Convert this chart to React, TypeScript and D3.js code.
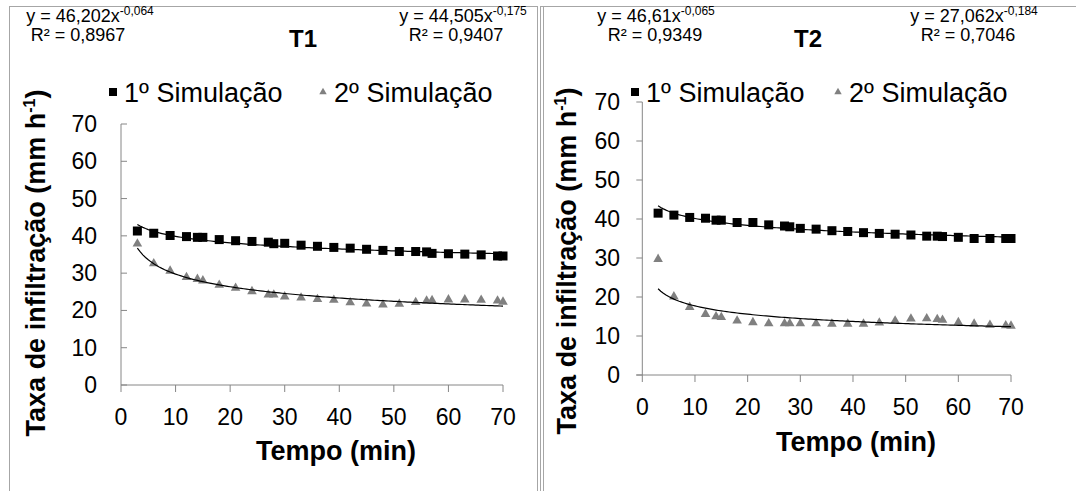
import React from 'react';
import * as d3 from 'd3';

// ---- data ----
const times = [3, 6, 9, 12, 14, 15, 18, 21, 24, 27, 28, 30, 33, 36, 39, 42, 45, 48, 51, 54, 56, 57, 60, 63, 66, 69, 70];
const t1Sim1 = [41.3, 40.7, 40.1, 39.8, 39.6, 39.6, 39.0, 38.7, 38.5, 38.3, 37.9, 38.0, 37.5, 37.2, 36.9, 36.7, 36.4, 36.1, 35.8, 35.8, 35.7, 35.3, 35.2, 35.1, 34.9, 34.6, 34.6];
const t1Sim2 = [37.9, 32.6, 30.6, 28.9, 28.4, 28.0, 26.8, 26.0, 25.1, 24.2, 24.2, 23.7, 23.4, 23.0, 22.8, 22.1, 21.8, 21.5, 21.7, 22.2, 22.6, 22.7, 22.9, 22.9, 22.8, 22.6, 22.3];
const t2Sim1 = [41.5, 41.0, 40.4, 40.2, 39.7, 39.7, 39.1, 39.1, 38.5, 38.2, 38.0, 37.6, 37.4, 37.0, 36.8, 36.5, 36.3, 36.1, 35.9, 35.6, 35.6, 35.5, 35.3, 35.0, 35.0, 35.0, 35.0];
const t2Sim2 = [29.7, 20.1, 17.4, 15.6, 15.0, 14.8, 13.9, 13.5, 13.2, 13.2, 13.2, 13.2, 13.2, 13.1, 13.1, 13.1, 13.4, 13.9, 14.4, 14.5, 14.3, 14.1, 13.5, 13.1, 12.8, 12.7, 12.6];

const t1Fit1 = { a: 46.202, b: -0.064, aText: '46,202', bText: '-0,064', r2: '0,8967' };
const t1Fit2 = { a: 44.505, b: -0.175, aText: '44,505', bText: '-0,175', r2: '0,9407' };
const t2Fit1 = { a: 46.61, b: -0.065, aText: '46,61', bText: '-0,065', r2: '0,9349' };
const t2Fit2 = { a: 27.062, b: -0.184, aText: '27,062', bText: '-0,184', r2: '0,7046' };

const xTicks = [0, 10, 20, 30, 40, 50, 60, 70];
const yTicks = [0, 10, 20, 30, 40, 50, 60, 70];
const seriesNames = ['1º Simulação', '2º Simulação'];

const FONT = 'Arial, "Liberation Sans", sans-serif';
const AXIS = '#868686';
const TRI = '#808080';

type Layout = {
  title: string;
  s1: number[]; s2: number[];
  f1: typeof t1Fit1; f2: typeof t1Fit2;
  x0: number; x1: number; y0: number; y1: number;
  yTickDir: number;
  eqL: [number, number]; eqR: [number, number]; r2L: number; r2R: number;
  titleX: number;
  leg: [number, number, number];
  yTitleX: number; yTitleY: number; xTitleX: number; xTitleY: number;
  labRight: number;
};

const panels: Layout[] = [
  {
    title: 'T1', s1: t1Sim1, s2: t1Sim2, f1: t1Fit1, f2: t1Fit2,
    x0: 121, x1: 503, y0: 385, y1: 124, yTickDir: 1,
    eqL: [90, 22], eqR: [463, 22], r2L: 78, r2R: 456,
    titleX: 303,
    leg: [113, 323, 92],
    yTitleX: 45, yTitleY: 263, xTitleX: 336, xTitleY: 460,
    labRight: 97,
  },
  {
    title: 'T2', s1: t2Sim1, s2: t2Sim2, f1: t2Fit1, f2: t2Fit2,
    x0: 642.3, x1: 1011, y0: 375, y1: 102, yTickDir: -1,
    eqL: [656, 22], eqR: [974, 22], r2L: 655, r2R: 968,
    titleX: 808,
    leg: [635, 838, 92],
    yTitleX: 576, yTitleY: 261, xTitleX: 856, xTitleY: 451,
    labRight: 620,
  },
];

function Panel({ p }: { p: Layout }) {
  const x = d3.scaleLinear().domain([0, 70]).range([p.x0, p.x1]);
  const y = d3.scaleLinear().domain([0, 70]).range([p.y0, p.y1]);
  const tri = d3.symbol().type(d3.symbolTriangle).size(40)();
  const triLeg = d3.symbol().type(d3.symbolTriangle).size(24)();
  const curve = (f: { a: number; b: number }) => {
    const ts = d3.range(times[0], times[times.length - 1] + 0.001, 0.5);
    return d3.line<number>().x((t) => x(t)).y((t) => y(f.a * Math.pow(t, f.b)))(ts) || '';
  };
  const eq = (f: typeof t1Fit1, cx: number, by: number, r2x: number) => (
    <g fontFamily={FONT} fill="#000">
      <text x={cx} y={by} fontSize={18} textAnchor="middle">
        {'y = ' + f.aText + 'x'}
        <tspan fontSize={12} dy={-7}>{f.bText}</tspan>
      </text>
      <text x={r2x} y={by + 19} fontSize={18} textAnchor="middle">{'R² = ' + f.r2}</text>
    </g>
  );
  return (
    <g>
      {eq(p.f1, p.eqL[0], p.eqL[1], p.r2L)}
      {eq(p.f2, p.eqR[0], p.eqR[1], p.r2R)}
      <text x={p.titleX} y={47} fontFamily={FONT} fontSize={24} fontWeight="bold" textAnchor="middle">{p.title}</text>
      {/* legend */}
      <rect x={p.leg[0] - 4} y={p.leg[2] - 4} width={8} height={8} fill="#000" />
      <text x={p.leg[0] + 11} y={p.leg[2] + 10} fontFamily={FONT} fontSize={27}>{seriesNames[0]}</text>
      <path d={triLeg} transform={`translate(${p.leg[1]},${p.leg[2]})`} fill={TRI} />
      <text x={p.leg[1] + 11} y={p.leg[2] + 10} fontFamily={FONT} fontSize={27}>{seriesNames[1]}</text>
      {/* axes */}
      <line x1={p.x0} x2={p.x0} y1={y(70)} y2={p.y0} stroke={AXIS} strokeWidth={1} />
      <line x1={p.x0 - (p.yTickDir < 0 ? 6 : 0)} x2={p.x1} y1={p.y0} y2={p.y0} stroke={AXIS} strokeWidth={1} />
      {yTicks.map((v) => (
        <g key={'y' + v}>
          <line x1={p.x0} x2={p.x0 + 6 * p.yTickDir} y1={y(v)} y2={y(v)} stroke={AXIS} />
          <text x={p.labRight} y={y(v) + 8} fontFamily={FONT} fontSize={23} textAnchor="end">{v}</text>
        </g>
      ))}
      {xTicks.map((v) => (
        <g key={'x' + v}>
          <line x1={x(v)} x2={x(v)} y1={p.y0} y2={p.y0 + 7} stroke={AXIS} />
          <text x={x(v)} y={p.y0 + 40} fontFamily={FONT} fontSize={23} textAnchor="middle">{v}</text>
        </g>
      ))}
      <text x={p.xTitleX} y={p.xTitleY} fontFamily={FONT} fontSize={27} fontWeight="bold" textAnchor="middle">Tempo (min)</text>
      <text transform={`translate(${p.yTitleX},${p.yTitleY}) rotate(-90)`} fontFamily={FONT} fontSize={27} fontWeight="bold" textAnchor="middle">
        Taxa de infiltração (mm h<tspan fontSize={16} dy={-10}>-1</tspan><tspan dy={10}>)</tspan>
      </text>
      {/* markers */}
      {p.s1.map((v, i) => (
        <rect key={'a' + i} x={x(times[i]) - 4.5} y={y(v) - 4.5} width={9} height={9} fill="#000" />
      ))}
      {p.s2.map((v, i) => (
        <path key={'b' + i} d={tri} transform={`translate(${x(times[i])},${y(v)})`} fill={TRI} />
      ))}
      <path d={curve(p.f1)} fill="none" stroke="#000" strokeWidth={1.2} />
      <path d={curve(p.f2)} fill="none" stroke="#000" strokeWidth={1.2} />
    </g>
  );
}

export default function App() {
  return (
    <svg width={1076} height={491} style={{ position: 'fixed', left: 0, top: 0, background: '#fff' }}>
      <rect x={0} y={0} width={1076} height={491} fill="#fff" />
      <rect x={9.5} y={6.5} width={528} height={520} fill="none" stroke="#a6a6a6" />
      <rect x={540.5} y={6.5} width={560} height={520} fill="none" stroke="#a6a6a6" />
      <line x1={543.5} x2={543.5} y1={6.5} y2={491} stroke="#a6a6a6" />
      {panels.map((p) => <Panel key={p.title} p={p} />)}
    </svg>
  );
}
